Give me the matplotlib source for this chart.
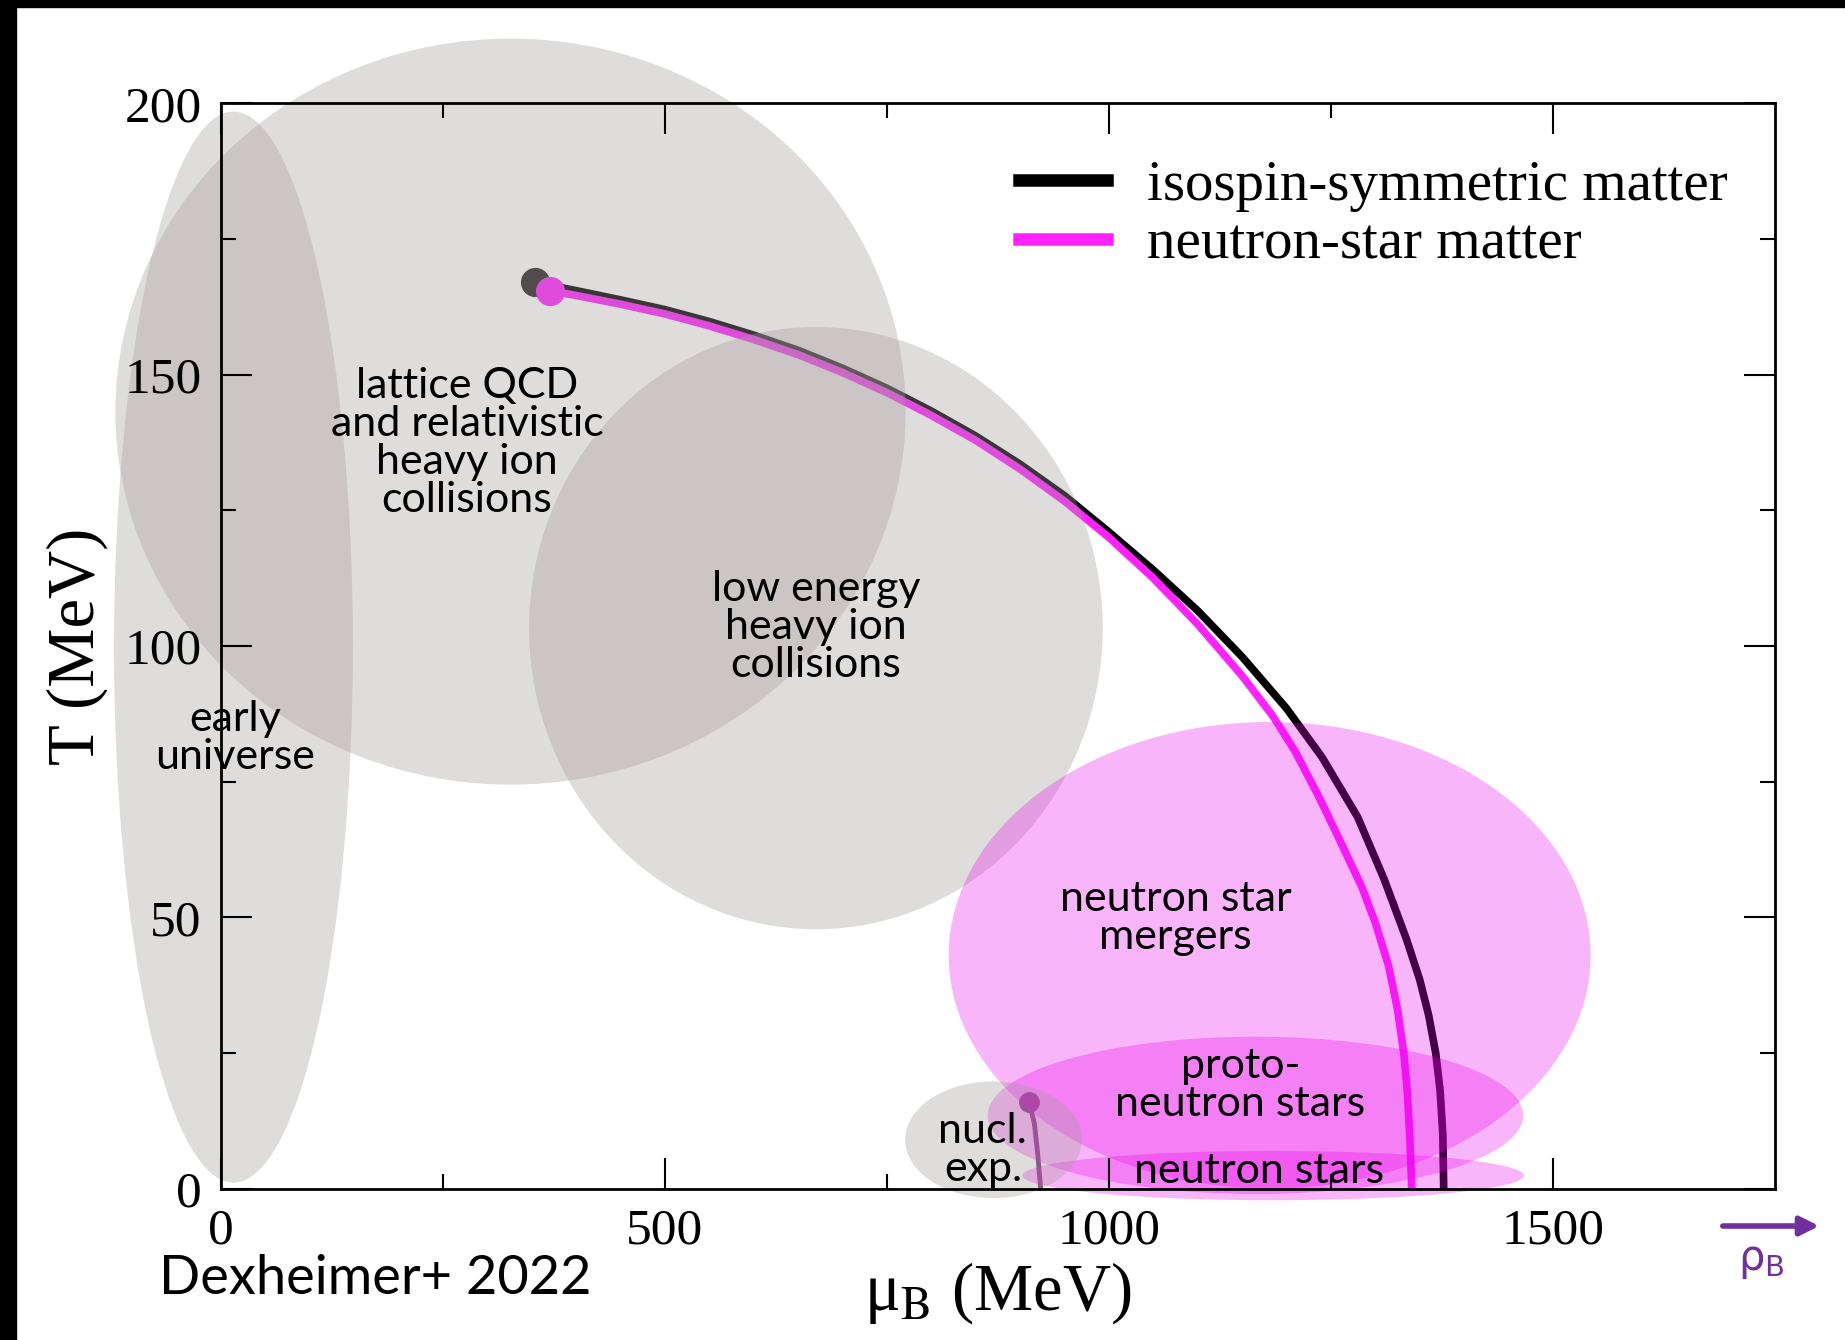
import numpy as np
import matplotlib
matplotlib.use('Agg')
import matplotlib.pyplot as plt
from matplotlib.patches import Ellipse, Rectangle, FancyArrowPatch

plt.rcParams['font.family'] = ['Liberation Serif', 'DejaVu Serif']
plt.rcParams['mathtext.fontset'] = 'stix'

# deconfinement transition lines (mu_B, T) in MeV
mu_sym = [354, 400, 450, 500, 550, 600, 650, 700, 750, 800, 850, 900, 950,
          1000, 1050, 1100, 1150, 1200, 1240, 1280, 1310, 1335, 1350, 1360,
          1368, 1373, 1376, 1377]
T_sym = [167, 165.5, 163.8, 162, 159.8, 157.3, 154.5, 151.2, 147.5, 143.3,
         138.7, 133.5, 127.7, 121, 114, 106.5, 98, 88.5, 79.5, 68.5, 57, 46,
         38.5, 32, 25, 18, 10, 0]
mu_nsm = [370, 400, 450, 500, 550, 600, 650, 700, 750, 800, 850, 900, 950,
          1000, 1050, 1100, 1150, 1185, 1210, 1237, 1262, 1285, 1300, 1315,
          1325, 1332, 1336, 1339, 1341]
T_nsm = [165.5, 164.6, 163, 161.2, 159, 156.5, 153.7, 150.4, 146.7, 142.5,
         137.9, 132.6, 126.7, 120, 112.5, 104, 94.5, 87, 80.5, 72, 63.5, 55.5,
         49, 41, 33, 25, 18, 9, 0]

# nuclear liquid-gas line
mu_lg = [910, 916, 920, 923]
T_lg = [16, 12, 6, 0]

# regions probed by experiments / astrophysics: centre, full width, full height
reg_mu = [326, 14, 670, 1181, 1165, 1185, 870]
reg_T = [143.2, 99.8, 103.3, 43, 13.5, 2.4, 9.0]
reg_w = [890, 269, 646, 723, 603, 565, 199]
reg_h = [137.5, 197.4, 111, 86, 29, 9.1, 21.5]
reg_kind = ['grey', 'grey', 'grey', 'pink', 'pink', 'pink', 'grey']

labels = ['lattice QCD\nand relativistic\nheavy ion\ncollisions',
          'early\nuniverse',
          'low energy\nheavy ion\ncollisions',
          'neutron star\nmergers',
          'proto-\nneutron stars',
          'neutron stars',
          'nucl.\nexp.']
label_mu = [277, 16, 670, 1075, 1148, 1169, 858]
label_T = [137.5, 83, 103.5, 49.9, 19.1, 3.3, 7.2]

fig = plt.figure(figsize=(18.45, 13.4), dpi=100)
ax = fig.add_axes([0.1198, 0.113, 0.8422, 0.8098])

l1, = ax.plot(mu_sym, T_sym, color='black', lw=5.5, zorder=1,
              solid_joinstyle='round', label='isospin-symmetric matter')
ax.plot(mu_sym[0], T_sym[0], 'o', color='#222222', ms=20, zorder=1)
l2, = ax.plot(mu_nsm, T_nsm, color='#ff22ff', lw=5.5, zorder=1,
              solid_joinstyle='round', label='neutron-star matter')
ax.plot(mu_nsm[0], T_nsm[0], 'o', color='#ff22ff', ms=20, zorder=1)
ax.plot(mu_lg, T_lg, color='#783c78', lw=3.5, zorder=1)
ax.plot(mu_lg[0], T_lg[0], 'o', color='#783c78', ms=14, zorder=1)

colors = {'grey': ((166/255, 155/255, 155/255), 0.35),
          'pink': ((236/255, 0, 236/255), 0.29)}
for m, t, w, h, k in zip(reg_mu, reg_T, reg_w, reg_h, reg_kind):
    c, a = colors[k]
    e = Ellipse((m, t), w, h, facecolor=c, alpha=a, edgecolor='none',
                zorder=1.2, clip_on=False)
    ax.add_patch(e)

for s, m, t in zip(labels, label_mu, label_T):
    ax.text(m, t, s, ha='center', va='center', fontsize=31, family='Lato',
            linespacing=1.0, zorder=3)

ax.set_xlim(0, 1750)
ax.set_ylim(0, 200)
ax.set_xticks([0, 500, 1000, 1500])
ax.set_xticks([250, 750, 1250], minor=True)
ax.set_yticks([0, 50, 100, 150, 200])
ax.set_yticks([25, 75, 125, 175], minor=True)
ax.tick_params(which='both', direction='in', top=True, right=True,
               width=1.5, labelsize=37)
ax.tick_params(which='major', length=22, pad=14)
ax.tick_params(which='minor', length=11)
for sp in ax.spines.values():
    sp.set_linewidth(2)

ax.set_xlabel('μ$_{\\rm B}$ (MeV)', fontsize=48, labelpad=4)
ax.set_ylabel('T (MeV)', fontsize=48, labelpad=12)

leg = ax.legend(handles=[l1, l2], loc='upper left',
                bbox_to_anchor=(0.5135, 0.948), frameon=False, fontsize=41,
                handlelength=1.55, handletextpad=0.7, labelspacing=0.12,
                borderpad=0, borderaxespad=0)
for ln in leg.get_lines():
    ln.set_linewidth(9)

# citation and density arrow below the frame
fig.text(159/1845, 1 - 1278/1340, 'Dexheimer+ 2022', ha='left', va='center',
         fontsize=39, family='Lato')
arr = FancyArrowPatch((1720/1845, 1 - 1226/1340), (1822/1845, 1 - 1226/1340),
                      transform=fig.transFigure, arrowstyle='-|>',
                      mutation_scale=28, color='#7030a0', lw=4)
fig.patches.append(arr)
fig.text(1761/1845, 1 - 1260/1340, 'ρ$_{\\rm B}$', ha='center',
         va='center', fontsize=30, color='#7030a0', family='DejaVu Sans',
         math_fontfamily='dejavusans')

# black edge strips
fig.patches.append(Rectangle((0, 1 - 7/1340), 1, 7/1340,
                             transform=fig.transFigure, color='black'))
fig.patches.append(Rectangle((0, 0), 16/1845, 1,
                             transform=fig.transFigure, color='black'))

fig.savefig('out.png', dpi=100)
